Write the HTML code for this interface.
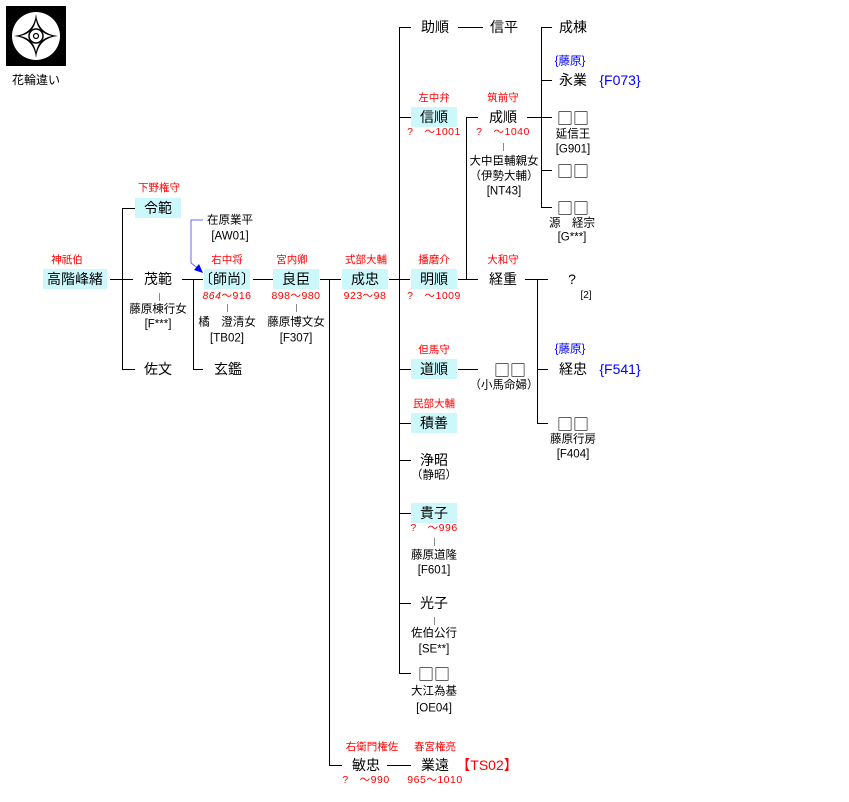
<!DOCTYPE html>
<html><head><meta charset="utf-8"><style>
body{margin:0;background:#fff;}
#c{position:relative;width:849px;height:802px;overflow:hidden;font-family:"Liberation Sans","Noto Sans CJK JP",sans-serif;color:#000;}
.t{position:absolute;transform:translate(-50%,-50%);white-space:nowrap;line-height:1;}
.n{font-size:14px;}
.s{font-size:11.5px;}
.r{font-size:10.5px;color:#f00;}
.d{font-size:10.5px;color:#f00;letter-spacing:0.5px;}
.b{color:#00f;}
.q{font-family:"Noto Sans CJK JP",sans-serif;font-size:16px;}
.h{position:absolute;background:#ccf8fc;}
.l{position:absolute;background:#000;}
.g{position:absolute;background:#888;width:1px;height:8px;}
</style></head><body><div id="c">
<!-- logo -->
<div style="position:absolute;left:6px;top:6px;width:60px;height:60px;background:#000"></div>
<svg style="position:absolute;left:6px;top:6px" width="60" height="60" viewBox="0 0 60 60">
<circle cx="30" cy="30" r="24" fill="#fff"/>
<path d="M30 8 Q32 28 52 30 Q32 32 30 52 Q28 32 8 30 Q28 28 30 8Z" fill="#000"/>
<path d="M30 14 Q32.5 27.5 46 30 Q32.5 32.5 30 46 Q27.5 32.5 14 30 Q27.5 27.5 30 14Z" fill="#fff"/>
<circle cx="30" cy="30" r="7" fill="none" stroke="#000" stroke-width="1.5"/>
<circle cx="30" cy="30" r="2.5" fill="none" stroke="#000" stroke-width="1.2"/>
</svg>
<div class="t s" style="left:36px;top:80px;font-size:12px">花輪違い</div>

<!-- highlights -->
<div class="h" style="left:43px;top:269px;width:64px;height:20px"></div>
<div class="h" style="left:135px;top:198px;width:46px;height:20px"></div>
<div class="h" style="left:204px;top:269px;width:46px;height:20px"></div>
<div class="h" style="left:273px;top:269px;width:46px;height:20px"></div>
<div class="h" style="left:342px;top:269px;width:46px;height:20px"></div>
<div class="h" style="left:411px;top:107px;width:46px;height:20px"></div>
<div class="h" style="left:411px;top:269px;width:46px;height:20px"></div>
<div class="h" style="left:411px;top:359px;width:46px;height:20px"></div>
<div class="h" style="left:411px;top:413px;width:46px;height:20px"></div>
<div class="h" style="left:411px;top:503px;width:46px;height:20px"></div>

<!-- lines -->
<div class="l" style="left:110px;top:279px;width:23px;height:1px"></div>
<div class="l" style="left:122px;top:208px;width:1px;height:162px"></div>
<div class="l" style="left:122px;top:208px;width:13px;height:1px"></div>
<div class="l" style="left:122px;top:369px;width:13px;height:1px"></div>
<div class="l" style="left:182px;top:279px;width:21px;height:1px"></div>
<div class="l" style="left:193px;top:279px;width:1px;height:91px"></div>
<div class="l" style="left:193px;top:369px;width:10px;height:1px"></div>
<div class="l" style="left:253px;top:279px;width:20px;height:1px"></div>
<div class="l" style="left:320px;top:279px;width:21px;height:1px"></div>
<div class="l" style="left:329px;top:279px;width:1px;height:487px"></div>
<div class="l" style="left:329px;top:765px;width:13px;height:1px"></div>
<div class="l" style="left:389px;top:279px;width:21px;height:1px"></div>
<div class="l" style="left:399px;top:27px;width:1px;height:647px"></div>
<div class="l" style="left:399px;top:27px;width:12px;height:1px"></div>
<div class="l" style="left:399px;top:117px;width:12px;height:1px"></div>
<div class="l" style="left:399px;top:369px;width:12px;height:1px"></div>
<div class="l" style="left:399px;top:423px;width:12px;height:1px"></div>
<div class="l" style="left:399px;top:460px;width:12px;height:1px"></div>
<div class="l" style="left:399px;top:513px;width:12px;height:1px"></div>
<div class="l" style="left:399px;top:603px;width:12px;height:1px"></div>
<div class="l" style="left:399px;top:673px;width:12px;height:1px"></div>
<div class="l" style="left:458px;top:27px;width:25px;height:1px"></div>
<div class="l" style="left:458px;top:279px;width:20px;height:1px"></div>
<div class="l" style="left:466px;top:117px;width:1px;height:163px"></div>
<div class="l" style="left:466px;top:117px;width:12px;height:1px"></div>
<div class="l" style="left:527px;top:117px;width:25px;height:1px"></div>
<div class="l" style="left:541px;top:27px;width:1px;height:181px"></div>
<div class="l" style="left:541px;top:27px;width:11px;height:1px"></div>
<div class="l" style="left:541px;top:80px;width:11px;height:1px"></div>
<div class="l" style="left:541px;top:170px;width:11px;height:1px"></div>
<div class="l" style="left:541px;top:207px;width:11px;height:1px"></div>
<div class="l" style="left:525px;top:279px;width:23px;height:1px"></div>
<div class="l" style="left:537px;top:279px;width:1px;height:145px"></div>
<div class="l" style="left:537px;top:369px;width:11px;height:1px"></div>
<div class="l" style="left:537px;top:423px;width:11px;height:1px"></div>
<div class="l" style="left:458px;top:369px;width:20px;height:1px"></div>
<div class="l" style="left:387px;top:765px;width:24px;height:1px"></div>
<!-- ticks -->
<div class="g" style="left:159px;top:293px"></div>
<div class="g" style="left:227px;top:304px"></div>
<div class="g" style="left:296px;top:304px"></div>
<div class="g" style="left:503px;top:143px"></div>
<div class="g" style="left:434px;top:538px"></div>
<div class="g" style="left:434px;top:617px"></div>
<!-- arrow -->
<svg style="position:absolute;left:185px;top:214px" width="25" height="65">
<path d="M18 6 H6 V49 L14 55" stroke="#66f" fill="none" stroke-width="1"/>
<path d="M18 59 L9 56 L14 50Z" fill="#00f"/>
</svg>

<!-- text -->
<div class="t r" style="left:67px;top:260px">神祇伯</div>
<div class="t n" style="left:75px;top:279px">高階峰緒</div>
<div class="t r" style="left:159px;top:188px">下野権守</div>
<div class="t n" style="left:158px;top:208px">令範</div>
<div class="t n" style="left:158px;top:279px">茂範</div>
<div class="t s" style="left:158px;top:310px">藤原棟行女</div>
<div class="t s" style="left:158px;top:325px">[F***]</div>
<div class="t n" style="left:158px;top:369px">佐文</div>
<div class="t s" style="left:230px;top:221px">在原業平</div>
<div class="t s" style="left:230px;top:237px">[AW01]</div>
<div class="t r" style="left:227px;top:260px">右中将</div>
<div class="t n" style="left:227px;top:279px">〔師尚〕</div>
<div class="t d" style="left:227px;top:296px"><i>864</i>～916</div>
<div class="t s" style="left:227px;top:323px">橘　澄清女</div>
<div class="t s" style="left:227px;top:339px">[TB02]</div>
<div class="t n" style="left:228px;top:369px">玄鑑</div>
<div class="t r" style="left:292px;top:260px">宮内卿</div>
<div class="t n" style="left:296px;top:279px">良臣</div>
<div class="t d" style="left:296px;top:296px">898～980</div>
<div class="t s" style="left:296px;top:323px">藤原博文女</div>
<div class="t s" style="left:296px;top:339px">[F307]</div>
<div class="t r" style="left:366px;top:260px">式部大輔</div>
<div class="t n" style="left:365px;top:279px">成忠</div>
<div class="t d" style="left:365px;top:296px">923～98</div>
<div class="t n" style="left:435px;top:27px">助順</div>
<div class="t n" style="left:504px;top:27px">信平</div>
<div class="t r" style="left:434px;top:98px">左中弁</div>
<div class="t n" style="left:434px;top:117px">信順</div>
<div class="t d" style="left:434px;top:132px">?　～1001</div>
<div class="t r" style="left:503px;top:98px">筑前守</div>
<div class="t n" style="left:503px;top:117px">成順</div>
<div class="t d" style="left:503px;top:132px">?　～1040</div>
<div class="t s" style="left:504px;top:162px">大中臣輔親女</div>
<div class="t s" style="left:504px;top:177px">（伊勢大輔）</div>
<div class="t s" style="left:504px;top:192px">[NT43]</div>
<div class="t n" style="left:573px;top:27px">成棟</div>
<div class="t s b" style="left:570px;top:62px">{藤原}</div>
<div class="t n" style="left:573px;top:80px">永業</div>
<div class="t n b" style="left:620px;top:80px">{F073}</div>
<div class="t q" style="left:573px;top:117px">□□</div>
<div class="t s" style="left:573px;top:135px">延信王</div>
<div class="t s" style="left:573px;top:150px">[G901]</div>
<div class="t q" style="left:573px;top:170px">□□</div>
<div class="t q" style="left:573px;top:207px">□□</div>
<div class="t s" style="left:572px;top:224px">源　経宗</div>
<div class="t s" style="left:572px;top:238px">[G***]</div>
<div class="t r" style="left:434px;top:260px">播磨介</div>
<div class="t n" style="left:434px;top:279px">明順</div>
<div class="t d" style="left:434px;top:296px">?　～1009</div>
<div class="t r" style="left:503px;top:260px">大和守</div>
<div class="t n" style="left:503px;top:279px">経重</div>
<div class="t n" style="left:572px;top:279px">?</div>
<div class="t s" style="left:586px;top:296px;font-size:10px">[2]</div>
<div class="t s b" style="left:570px;top:350px">{藤原}</div>
<div class="t n" style="left:573px;top:369px">経忠</div>
<div class="t n b" style="left:620px;top:369px">{F541}</div>
<div class="t q" style="left:573px;top:423px">□□</div>
<div class="t s" style="left:573px;top:440px">藤原行房</div>
<div class="t s" style="left:573px;top:455px">[F404]</div>
<div class="t r" style="left:434px;top:350px">但馬守</div>
<div class="t n" style="left:434px;top:369px">道順</div>
<div class="t q" style="left:510px;top:369px">□□</div>
<div class="t s" style="left:504px;top:386px">（小馬命婦）</div>
<div class="t r" style="left:434px;top:404px">民部大輔</div>
<div class="t n" style="left:434px;top:423px">積善</div>
<div class="t n" style="left:434px;top:460px">浄昭</div>
<div class="t s" style="left:434px;top:476px">（静昭）</div>
<div class="t n" style="left:434px;top:513px">貴子</div>
<div class="t d" style="left:434px;top:528px">?　～996</div>
<div class="t s" style="left:434px;top:556px">藤原道隆</div>
<div class="t s" style="left:434px;top:571px">[F601]</div>
<div class="t n" style="left:434px;top:603px">光子</div>
<div class="t s" style="left:434px;top:634px">佐伯公行</div>
<div class="t s" style="left:434px;top:650px">[SE**]</div>
<div class="t q" style="left:434px;top:673px">□□</div>
<div class="t s" style="left:434px;top:692px">大江為基</div>
<div class="t s" style="left:434px;top:709px">[OE04]</div>
<div class="t r" style="left:372px;top:747px">右衛門権佐</div>
<div class="t n" style="left:366px;top:765px">敏忠</div>
<div class="t d" style="left:366px;top:780px">?　～990</div>
<div class="t r" style="left:435px;top:747px">春宮権亮</div>
<div class="t n" style="left:435px;top:765px">業遠</div>
<div class="t d" style="left:435px;top:780px">965～1010</div>
<div class="t n" style="left:487px;top:765px;color:#f00">【TS02】</div>
</div></body></html>
